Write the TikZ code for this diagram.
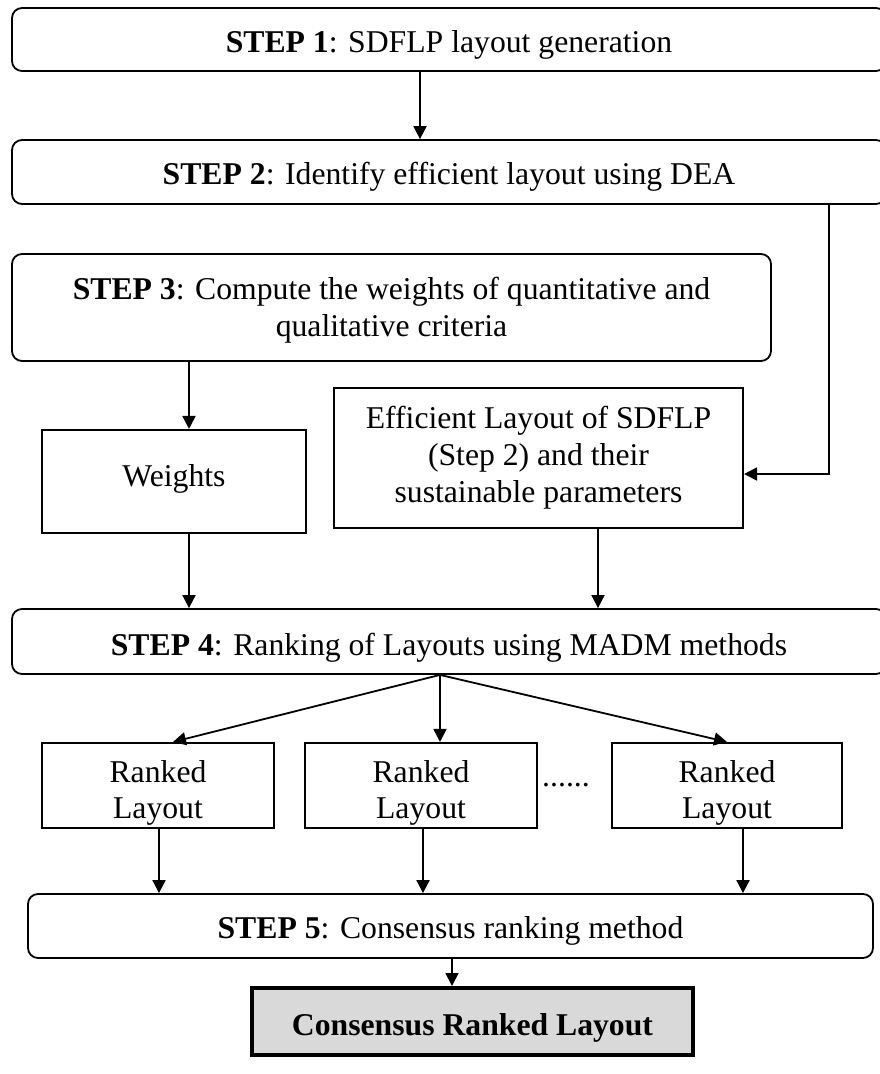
\documentclass[tikz,border=0pt]{standalone}
\usepackage{fontspec}
\setmainfont{Liberation Serif}
\usetikzlibrary{arrows.meta}
\definecolor{boxgray}{HTML}{D9D9D9}
\newcommand\txtlow[1]{\rule{0pt}{#1}}
\begin{document}
\begin{tikzpicture}[x=1pt,y=-1pt,
  every node/.style={font=\fontsize{31.7}{36.8}\selectfont, inner sep=0pt, align=center},
  stepbox/.style={draw, line width=1.8pt, rounded corners=10pt},
  plainbox/.style={draw, line width=2.1pt},
  finalbox/.style={draw, line width=4pt, fill=boxgray},
  arr/.style={line width=1.8pt, -{Triangle[length=13pt,width=13pt]}},
]
\fill[white] (0,0) rectangle (880,1074);
\useasboundingbox (0,0) rectangle (880,1074);

% boxes
\node[stepbox, minimum width=874pt, minimum height=63pt] (b1) at (449,39.5)
  {\txtlow{33pt}\textbf{STEP 1}: SDFLP layout generation};
\node[stepbox, minimum width=874pt, minimum height=64pt] (b2) at (449,172)
  {\txtlow{32pt}\textbf{STEP 2}: Identify efficient layout using DEA};
\node[stepbox, minimum width=759pt, minimum height=107pt] (b3) at (391.5,307.5)
  {\txtlow{28pt}\textbf{STEP 3}: Compute the weights of quantitative and\\qualitative criteria};
\node[plainbox, minimum width=264pt, minimum height=103pt] (w) at (174,481.5)
  {Weights\rule[-13pt]{0pt}{1pt}};
\node[plainbox, minimum width=409pt, minimum height=140pt] (eff) at (538.5,458)
  {Efficient Layout of SDFLP\\(Step 2) and their\\sustainable parameters};
\node[stepbox, minimum width=874pt, minimum height=65pt] (b4) at (449,641.5)
  {\txtlow{34pt}\textbf{STEP 4}: Ranking of Layouts using MADM methods};
\node[plainbox, minimum width=232pt, minimum height=85pt] (r1) at (158,785.5)
  {\txtlow{37pt}Ranked\\Layout};
\node[plainbox, minimum width=232pt, minimum height=85pt] (r2) at (421,785.5)
  {\txtlow{37pt}Ranked\\Layout};
\node[plainbox, minimum width=230pt, minimum height=85pt] (r3) at (727,785.5)
  {\txtlow{37pt}Ranked\\Layout};
\node[anchor=base] (dots) at (566,786) {......};
\node[stepbox, minimum width=845pt, minimum height=64pt] (b5) at (450.5,926)
  {\txtlow{32pt}\textbf{STEP 5}: Consensus ranking method};
\node[finalbox, minimum width=441pt, minimum height=67pt] (fin) at (472.5,1021.5)
  {\txtlow{35pt}\textbf{Consensus Ranked Layout}};

% column coordinates
\coordinate (c420) at (420,0);
\coordinate (c189) at (189,0);
\coordinate (c598) at (598,0);
\coordinate (c440) at (440,0);
\coordinate (c173) at (173,0);
\coordinate (c727) at (727,0);
\coordinate (c159) at (159,0);
\coordinate (c423) at (423,0);
\coordinate (c743) at (743,0);
\coordinate (c452) at (452,0);
\coordinate (turn) at (829,474);

% connectors
\draw[arr] (b1.south -| c420) -- (b2.north -| c420);
\draw[arr] (b2.south -| turn) -- (turn) -- (eff.east |- turn);
\draw[arr] (b3.south -| c189) -- (w.north -| c189);
\draw[arr] (w.south -| c189) -- (b4.north -| c189);
\draw[arr] (eff.south -| c598) -- (b4.north -| c598);
\draw[arr] (b4.south -| c440) -- (r1.north -| c173);
\draw[arr] (b4.south -| c440) -- (r2.north -| c440);
\draw[arr] (b4.south -| c440) -- (r3.north -| c727);
\draw[arr] (r1.south -| c159) -- (b5.north -| c159);
\draw[arr] (r2.south -| c423) -- (b5.north -| c423);
\draw[arr] (r3.south -| c743) -- (b5.north -| c743);
\draw[arr] (b5.south -| c452) -- (fin.north -| c452);
\end{tikzpicture}
\end{document}
